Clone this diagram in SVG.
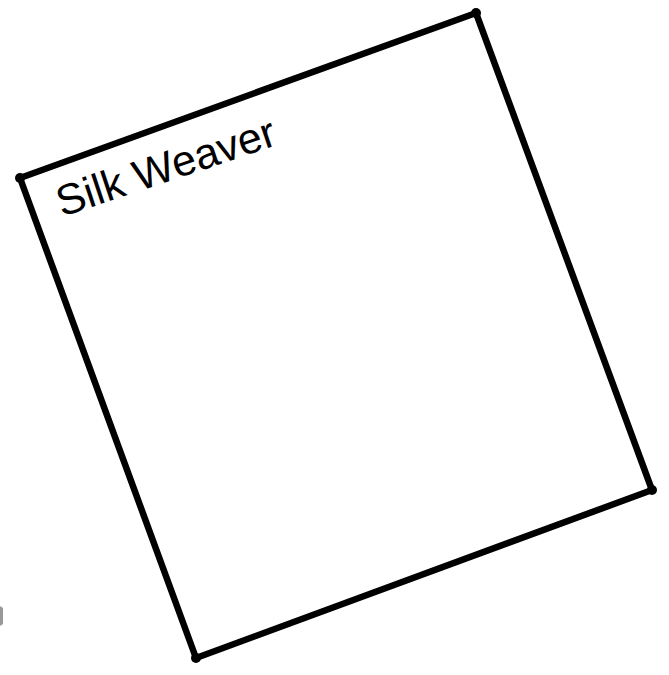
<svg xmlns="http://www.w3.org/2000/svg" width="669" height="675" viewBox="0 0 669 675">
<style>
.box{fill:#fff;stroke:#000;stroke-width:6.5;stroke-linejoin:round;stroke-linecap:round}
.dot{fill:#000}
.lbl{font-family:"Liberation Sans",Arial,sans-serif;font-size:43px;fill:#000}
</style>
<rect width="669" height="675" fill="#fff"/>
<path d="M0,606 L3,608 L3,624 L0,626 Z" fill="#555" opacity="0.6"/>
<g id="silk-weaver">
<path class="box" d="M20,178 L476,13 L652,490 L196,658 Z"/>
<circle class="dot" cx="20" cy="178" r="5"/>
<circle class="dot" cx="476" cy="13" r="5"/>
<circle class="dot" cx="652" cy="490" r="5"/>
<circle class="dot" cx="196" cy="658" r="5"/>
<text class="lbl" transform="translate(62,217) rotate(-18.5)">Silk Weaver</text>
</g>
</svg>
